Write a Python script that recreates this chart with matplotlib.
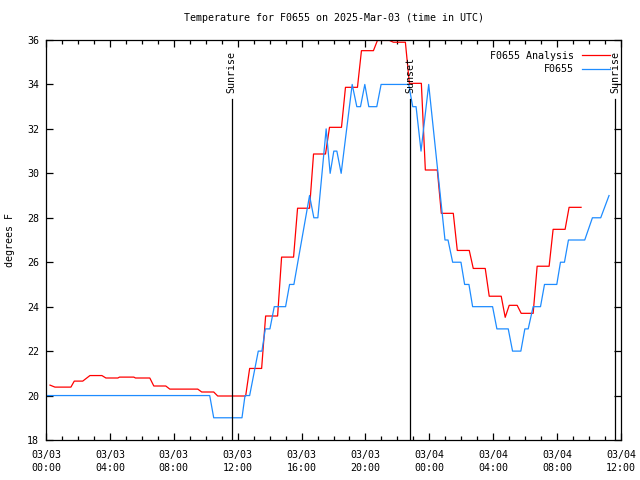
import matplotlib
matplotlib.use('Agg')
import matplotlib.pyplot as plt
from matplotlib.ticker import MultipleLocator

# hours since 2025-03-03 00:00 UTC
ana_hours = [0.25, 0.56, 1.56, 1.77, 2.3, 2.75, 3.5, 3.75, 4.5, 4.6, 5.5, 5.6, 6.5, 6.75,
             7.5, 7.75, 9.5, 9.75, 10.5, 10.75, 12.5, 12.75, 13.5, 13.75, 14.5, 14.75,
             15.5, 15.75, 16.5, 16.75, 17.5, 17.75, 18.5, 18.75, 19.5, 19.75, 20.5, 20.75,
             21.5, 21.75, 22.5, 22.75, 23.5, 23.75, 24.5, 24.75, 25.5, 25.75, 26.5, 26.75,
             27.5, 27.75, 28.5, 28.75, 29.0, 29.5, 29.75, 30.5, 30.75, 31.5, 31.75, 32.5,
             32.75, 33.5]
ana_temp = [20.47, 20.38, 20.38, 20.65, 20.65, 20.9, 20.9, 20.79, 20.79, 20.83, 20.83, 20.79,
            20.79, 20.43, 20.43, 20.29, 20.29, 20.16, 20.16, 19.98, 19.98, 21.22, 21.22, 23.58,
            23.58, 26.23, 26.23, 28.43, 28.43, 30.87, 30.87, 32.07, 32.07, 33.87, 33.87, 35.52,
            35.52, 35.98, 35.98, 35.9, 35.9, 34.05, 34.05, 30.15, 30.15, 28.2, 28.2, 26.53,
            26.53, 25.72, 25.72, 24.47, 24.47, 23.52, 24.06, 24.06, 23.7, 23.7, 25.82, 25.82,
            27.48, 27.48, 28.47, 28.47]

obs_hours = [0, 10.25, 10.5, 12.27, 12.46, 12.75, 13.29, 13.52, 13.73, 14.02, 14.29, 15.0,
             15.25, 15.52, 16.5, 16.77, 17.02, 17.54, 17.79, 18.02, 18.21, 18.48, 19.17,
             19.46, 19.69, 19.96, 20.21, 20.71, 20.98, 22.71, 22.96, 23.17, 23.48, 23.96,
             24.98, 25.17, 25.46, 25.98, 26.21, 26.48, 26.71, 27.96, 28.23, 28.94, 29.21,
             29.73, 29.98, 30.19, 30.5, 30.96, 31.21, 31.98, 32.21, 32.46, 32.71, 33.73,
             34.21, 34.73, 35.25]
obs_temp = [20, 20, 19, 19, 20, 20, 22, 22, 23, 23, 24, 24, 25, 25, 29, 28, 28, 32, 30, 31,
            31, 30, 34, 33, 33, 34, 33, 33, 34, 34, 33, 33, 31, 34, 27, 27, 26, 26, 25, 25,
            24, 24, 23, 23, 22, 22, 23, 23, 24, 24, 25, 25, 26, 26, 27, 27, 28, 28, 29]

sun_hours = [11.625, 22.81, 35.625]
sun_labels = ['Sunrise', 'Sunset', 'Sunrise']

tick_hours = [0, 4, 8, 12, 16, 20, 24, 28, 32, 36]
tick_labels = ['03/03\n00:00', '03/03\n04:00', '03/03\n08:00', '03/03\n12:00',
               '03/03\n16:00', '03/03\n20:00', '03/04\n00:00', '03/04\n04:00',
               '03/04\n08:00', '03/04\n12:00']

plt.rcParams['font.family'] = ['DejaVu Sans Mono']
plt.rcParams['font.size'] = 7.2

fig = plt.figure(figsize=(6.4, 4.8), dpi=100)
ax = fig.add_axes([46 / 640, 40 / 480, 575 / 640, 400 / 480])

ax.plot(ana_hours, ana_temp, color='#ff0000', lw=0.9, label='F0655 Analysis')
ax.plot(obs_hours, obs_temp, color='#1e8cff', lw=0.9, label='F0655')

for h, name in zip(sun_hours, sun_labels):
    ax.plot([h, h], [18, 33.35], color='black', lw=0.9)
    ax.text(h, 33.6, name, rotation=90, ha='center', va='bottom')

ax.set_xlim(0, 36)
ax.set_ylim(18, 36)
ax.set_xticks(tick_hours)
ax.set_xticklabels(tick_labels, linespacing=1.35)
ax.xaxis.set_minor_locator(MultipleLocator(1))
ax.yaxis.set_major_locator(MultipleLocator(2))
ax.tick_params(which='both', direction='in', top=True, right=True, width=0.9)
ax.tick_params(which='major', length=5)
ax.tick_params(which='minor', length=3)
ax.tick_params(axis='x', pad=7)
ax.tick_params(axis='y', pad=5)
for s in ax.spines.values():
    s.set_linewidth(0.9)

ax.set_title('Temperature for F0655 on 2025-Mar-03 (time in UTC)', pad=14, fontsize=7.2)
ax.set_ylabel('degrees F')
ax.yaxis.set_label_coords(-0.054, 0.5)

ax.legend(loc='upper right', frameon=False, markerfirst=False, handlelength=2.8,
          handletextpad=0.8, labelspacing=0.35, borderaxespad=0.7)

fig.savefig('out.png', dpi=100)
